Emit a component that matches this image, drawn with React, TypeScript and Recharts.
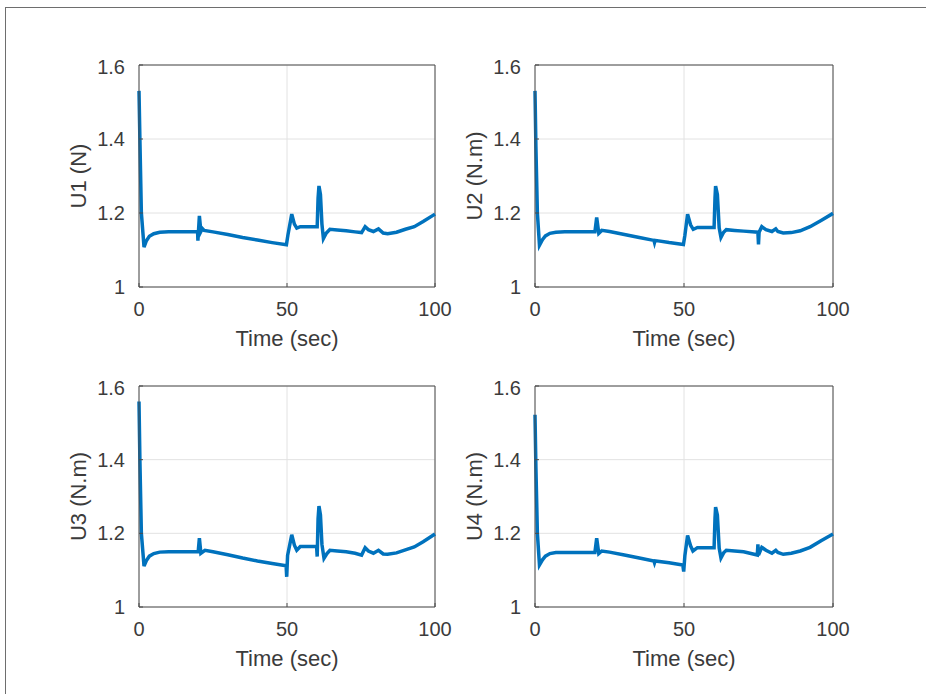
import { LineChart, Line, XAxis, YAxis, CartesianGrid, ReferenceLine, Label } from "recharts";

// shared tick positions
const xTicks = [0, 50, 100];
const yTicks = [1, 1.2, 1.4, 1.6];

// U1 (N)
const u1Time = [0, 0.3, 0.8, 1.7, 2.5, 3.5, 5, 7, 10, 15, 19.8, 19.9, 20.4, 20.9, 21.4, 22, 25, 30, 35, 40, 45, 49.8, 50.3, 51.6, 52.5, 53.3, 54.5, 58, 60.2, 60.5, 60.8, 61.3, 61.8, 62.3, 63.2, 64.5, 67, 70, 73, 75.2, 76.4, 77.5, 79.2, 80.9, 82.5, 84, 87, 90, 93, 96, 100];
const u1Vals = [1.53, 1.4, 1.2, 1.108, 1.125, 1.137, 1.144, 1.148, 1.149, 1.149, 1.149, 1.125, 1.192, 1.15, 1.158, 1.153, 1.149, 1.142, 1.134, 1.127, 1.12, 1.114, 1.14, 1.197, 1.17, 1.159, 1.163, 1.163, 1.163, 1.24, 1.273, 1.25, 1.17, 1.131, 1.145, 1.156, 1.154, 1.152, 1.149, 1.147, 1.163, 1.155, 1.15, 1.157, 1.146, 1.144, 1.148, 1.156, 1.163, 1.177, 1.197];

// U2 (N.m)
const u2Time = [0, 0.3, 0.8, 1.5, 2.5, 3.5, 5, 7, 10, 15, 20.1, 20.7, 21.4, 22.4, 25, 30, 35, 39.9, 40.1, 40.3, 45, 49.8, 50.3, 51.2, 52.2, 53.1, 54.5, 58, 60.1, 60.4, 60.6, 61.2, 61.8, 62.4, 63.3, 64.2, 67, 70, 74.8, 75, 75.2, 76.1, 77.5, 79.5, 80.8, 81.5, 83.3, 86, 89, 92.3, 96, 100];
const u2Vals = [1.53, 1.38, 1.2, 1.113, 1.128, 1.138, 1.145, 1.148, 1.149, 1.149, 1.149, 1.188, 1.145, 1.153, 1.15, 1.142, 1.134, 1.126, 1.12, 1.126, 1.12, 1.115, 1.14, 1.197, 1.168, 1.156, 1.161, 1.161, 1.161, 1.24, 1.273, 1.25, 1.16, 1.134, 1.148, 1.155, 1.153, 1.151, 1.148, 1.115, 1.148, 1.163, 1.155, 1.15, 1.157, 1.15, 1.146, 1.147, 1.152, 1.163, 1.18, 1.199];

// U3 (N.m)
const u3Time = [0, 0.3, 0.8, 1.7, 2.5, 3.5, 5, 7, 10, 15, 20, 20.4, 20.9, 22.3, 25, 30, 35, 40, 45, 49.7, 49.9, 50.2, 51.6, 52.5, 53.3, 54.5, 58, 60, 60.2, 60.5, 60.8, 61.3, 61.8, 62.5, 63.5, 64.5, 67, 70, 73, 75.2, 76.4, 77.5, 79.2, 80.9, 82.5, 84, 87, 90, 93, 96, 100];
const u3Vals = [1.558, 1.4, 1.2, 1.111, 1.126, 1.138, 1.145, 1.149, 1.15, 1.15, 1.15, 1.187, 1.146, 1.154, 1.15, 1.142, 1.133, 1.125, 1.118, 1.112, 1.082, 1.14, 1.196, 1.168, 1.154, 1.164, 1.164, 1.164, 1.137, 1.24, 1.274, 1.25, 1.17, 1.132, 1.145, 1.154, 1.152, 1.15, 1.146, 1.141, 1.161, 1.152, 1.146, 1.154, 1.144, 1.143, 1.147, 1.155, 1.163, 1.177, 1.198];

// U4 (N.m)
const u4Time = [0, 0.3, 0.8, 1.5, 2.5, 3.5, 5, 7, 10, 15, 20.1, 20.7, 21.4, 22.4, 25, 30, 35, 39.9, 40.1, 40.3, 45, 49.6, 49.9, 50.3, 51.2, 52.2, 53, 54.5, 58, 60.1, 60.4, 60.6, 61.2, 61.8, 62.4, 63.3, 64.2, 67, 70, 74.6, 74.8, 75, 76.1, 77.5, 79.5, 80.8, 81.5, 83.3, 86, 89, 92.3, 96, 100];
const u4Vals = [1.522, 1.38, 1.2, 1.114, 1.128, 1.138, 1.145, 1.148, 1.148, 1.148, 1.148, 1.187, 1.145, 1.152, 1.149, 1.141, 1.133, 1.125, 1.12, 1.125, 1.12, 1.114, 1.096, 1.14, 1.194, 1.166, 1.152, 1.161, 1.161, 1.161, 1.24, 1.271, 1.25, 1.16, 1.133, 1.147, 1.154, 1.152, 1.15, 1.141, 1.17, 1.141, 1.162, 1.154, 1.146, 1.154, 1.148, 1.143, 1.146, 1.152, 1.162, 1.18, 1.198];

const axisColor = "#4a4a4a";
const textColor = "#3b3b3b";
const lineColor = "#0072bd";
const font = "'Liberation Sans', Arial, sans-serif";

type PanelProps = {
  label: string;
  time: number[];
  vals: number[];
  x: number;
  y: number;
  w: number;
  h: number;
};

function Panel({ label, time, vals, x, y, w, h }: PanelProps) {
  const data = time.map((t, i) => ({ t, u: vals[i] }));
  return (
    <div style={{ position: "absolute", left: x - 80, top: y - 10 }}>
      <LineChart
        width={w + 120}
        height={h + 80}
        data={data}
        margin={{ top: 10, right: 40, left: 0, bottom: 0 }}
        style={{ fontFamily: font }}
      >
        <CartesianGrid stroke="#e2e2e2" strokeWidth={1} />
        <XAxis
          dataKey="t"
          type="number"
          domain={[0, 100]}
          ticks={xTicks}
          height={70}
          stroke={axisColor}
          tickSize={-4}
          tickMargin={19}
          tick={{ fill: textColor, fontSize: 20 }}
        >
          <Label value="Time (sec)" position="insideBottom" offset={11} fill={textColor} fontSize={22} />
        </XAxis>
        <YAxis
          type="number"
          domain={[1, 1.6]}
          ticks={yTicks}
          width={80}
          stroke={axisColor}
          tickSize={-4}
          tickMargin={18}
          tick={{ fill: textColor, fontSize: 20 }}
          allowDataOverflow
        >
          <Label
            content={(props: any) => {
              const vb = props.viewBox || { x: 0, y: 10, width: 80, height: h };
              const cx = vb.x + vb.width - 61;
              const cy = vb.y + vb.height / 2;
              return (
                <text
                  x={cx}
                  y={cy}
                  transform={`rotate(-90 ${cx} ${cy})`}
                  textAnchor="middle"
                  dominantBaseline="central"
                  fill={textColor}
                  fontSize={22}
                  fontFamily={font}
                >
                  {label}
                </text>
              );
            }}
          />
        </YAxis>
        <ReferenceLine y={1.6} stroke={axisColor} />
        <ReferenceLine x={100} stroke={axisColor} />
        <Line
          dataKey="u"
          type="linear"
          stroke={lineColor}
          strokeWidth={3.5}
          dot={false}
          isAnimationActive={false}
        />
      </LineChart>
    </div>
  );
}

export default function App() {
  return (
    <div style={{ position: "absolute", left: 0, top: 0, width: 926, height: 694, background: "#fff", overflow: "hidden" }}>
      <div
        style={{
          position: "absolute",
          left: 5,
          top: 7,
          right: 0,
          bottom: 0,
          borderTop: "1px solid #6e6e6e",
          borderLeft: "1px solid #6e6e6e",
        }}
      />
      <Panel label="U1 (N)" time={u1Time} vals={u1Vals} x={139} y={65} w={296} h={222} />
      <Panel label="U2 (N.m)" time={u2Time} vals={u2Vals} x={535} y={65} w={298} h={222} />
      <Panel label="U3 (N.m)" time={u3Time} vals={u3Vals} x={139} y={386} w={296} h={221} />
      <Panel label="U4 (N.m)" time={u4Time} vals={u4Vals} x={535} y={386} w={298} h={221} />
    </div>
  );
}
